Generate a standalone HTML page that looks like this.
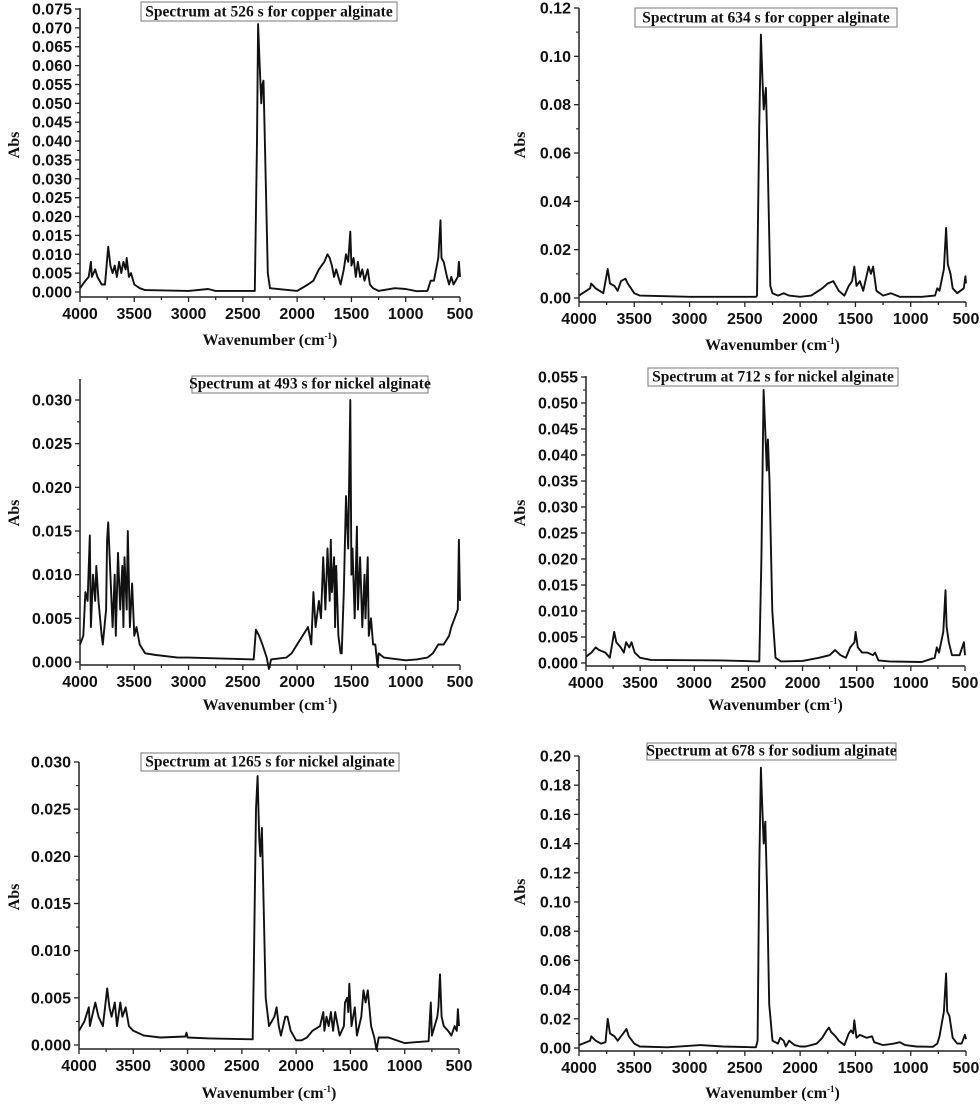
<!DOCTYPE html>
<html><head><meta charset="utf-8">
<style>
html,body{margin:0;padding:0;background:#fff;}
svg{display:block;}
.tl{font-family:"Liberation Sans",Arial,sans-serif;font-weight:bold;font-size:16px;fill:#111;}
.ti{font-family:"Liberation Serif",serif;font-weight:bold;font-size:15.5px;fill:#111;}
.ax{font-family:"Liberation Serif",serif;font-weight:bold;font-size:16px;fill:#111;}
</style></head>
<body>
<svg id="fig" width="980" height="1105" viewBox="0 0 980 1105" xmlns="http://www.w3.org/2000/svg"></svg>
<script>
const titles = ["Spectrum at 526 s for copper alginate","Spectrum at 634 s for copper alginate","Spectrum at 493 s for nickel alginate","Spectrum at 712 s for nickel alginate","Spectrum at 1265 s for nickel alginate","Spectrum at 678 s for sodium alginate"];
const xTickLabels = [4000,3500,3000,2500,2000,1500,1000,500];
const yMaxes = [0.075,0.12,0.030,0.055,0.030,0.20];
const ySteps = [0.005,0.02,0.005,0.005,0.005,0.02];
const yDecimals = [3,2,3,3,3,2];

const s1Wn=[4000,3950,3920,3900,3890,3860,3840,3800,3770,3740,3720,3700,3680,3660,3640,3620,3600,3580,3570,3550,3530,3500,3450,3400,3000,2820,2750,2400,2390,2370,2360,2345,2330,2320,2310,2290,2270,2250,2000,1900,1850,1800,1750,1720,1700,1680,1660,1640,1600,1570,1550,1530,1510,1500,1480,1460,1440,1420,1400,1380,1350,1330,1300,1250,1100,1000,900,800,770,740,700,680,670,650,620,600,580,560,520,510,500];
const s1Abs=[.001,.003,.004,.008,.004,.006,.004,.002,.002,.012,.007,.005,.007,.004,.008,.005,.008,.006,.009,.004,.005,.002,.001,.0005,.0003,.0008,.0003,.0003,.0003,.04,.071,.06,.05,.055,.056,.03,.005,.001,.0003,.002,.003,.006,.008,.010,.009,.007,.004,.006,.002,.006,.010,.008,.016,.007,.009,.004,.008,.004,.006,.003,.006,.002,.001,.0003,.001,.0008,.0002,.0003,.003,.003,.009,.019,.009,.008,.004,.002,.004,.002,.004,.008,.004];

const s2Wn=[4000,3900,3890,3850,3780,3740,3720,3680,3650,3620,3580,3560,3500,3450,3000,2400,2390,2370,2355,2340,2330,2310,2295,2270,2250,2200,2150,2100,2000,1900,1800,1750,1700,1650,1600,1560,1530,1510,1490,1460,1430,1380,1360,1340,1310,1250,1180,1100,900,780,760,740,700,680,665,640,620,580,520,505,500];
const s2Abs=[.001,.004,.006,.004,.002,.012,.006,.005,.003,.007,.008,.006,.002,.001,.0005,.0005,.001,.07,.109,.09,.078,.087,.06,.005,.002,.001,.002,.001,.0005,.001,.004,.006,.007,.003,.001,.005,.007,.013,.005,.007,.003,.013,.010,.013,.003,.001,.002,.0005,.0005,.001,.004,.003,.012,.029,.014,.010,.004,.002,.004,.009,.006];

const s3Wn=[4000,3970,3950,3930,3910,3900,3880,3860,3850,3830,3800,3790,3760,3750,3740,3720,3700,3680,3670,3650,3630,3610,3600,3590,3570,3560,3540,3520,3500,3480,3450,3400,3300,3100,3000,2400,2380,2350,2320,2280,2260,2240,2100,2050,2000,1950,1900,1870,1850,1830,1800,1780,1760,1740,1720,1700,1690,1680,1660,1650,1640,1620,1600,1590,1570,1550,1530,1510,1500,1490,1470,1450,1440,1420,1400,1380,1370,1350,1340,1320,1300,1280,1260,1250,1200,1000,900,800,750,700,650,600,580,550,520,510,500];
const s3Abs=[.002,.003,.008,.007,.0145,.004,.010,.007,.011,.007,.003,.002,.006,.014,.016,.010,.004,.010,.003,.0125,.006,.011,.004,.012,.006,.015,.004,.009,.003,.004,.002,.001,.0008,.0005,.0005,.0003,.0037,.003,.002,.0005,-.0008,.0003,.0005,.001,.002,.003,.004,.002,.008,.004,.007,.005,.012,.006,.013,.007,.014,.008,.012,.004,.011,.003,.001,.001,.008,.019,.013,.030,.010,.013,.005,.0155,.006,.012,.004,.010,.005,.012,.003,.005,.002,.002,-.0005,.001,.0005,.0002,.0003,.0005,.001,.002,.002,.003,.004,.005,.006,.014,.007];

const s4Wn=[4000,3950,3910,3880,3820,3780,3740,3720,3680,3650,3630,3600,3580,3550,3500,3400,2750,2400,2380,2360,2345,2330,2320,2305,2280,2250,2200,2000,1850,1750,1700,1650,1600,1560,1520,1510,1490,1450,1400,1350,1330,1300,1200,900,780,760,740,700,680,670,650,620,550,510,500];
const s4Abs=[.0012,.002,.003,.0025,.002,.001,.006,.004,.003,.002,.004,.003,.004,.002,.001,.0006,.0005,.0003,.02,.0525,.045,.037,.043,.035,.01,.001,.0003,.0004,.001,.0015,.0025,.0015,.001,.003,.004,.006,.003,.002,.002,.0015,.002,.0005,.0003,.0002,.001,.003,.002,.006,.014,.007,.004,.0015,.0015,.004,.0015];

const s5Wn=[4000,3950,3910,3900,3880,3850,3820,3780,3740,3720,3700,3670,3650,3620,3600,3570,3540,3500,3400,3250,3020,3010,3000,2800,2400,2390,2370,2355,2340,2330,2315,2300,2280,2250,2200,2180,2160,2140,2100,2080,2050,2000,1950,1900,1850,1780,1750,1740,1720,1700,1680,1660,1640,1600,1560,1550,1530,1520,1510,1490,1460,1440,1420,1400,1380,1360,1340,1310,1280,1260,1240,1150,1000,900,780,760,750,700,690,675,660,640,600,570,540,520,510,500];
const s5Abs=[.0015,.0025,.004,.002,.003,.0045,.003,.002,.006,.004,.003,.0045,.002,.0045,.003,.004,.002,.0015,.001,.0008,.0009,.0013,.0008,.0007,.0006,.008,.025,.0285,.022,.02,.023,.015,.005,.002,.003,.004,.002,.001,.003,.003,.0015,.0005,.0005,.0008,.0015,.002,.0035,.0015,.003,.002,.0035,.0015,.0035,.001,.002,.0045,.005,.0035,.0065,.002,.004,.001,.002,.003,.0058,.0045,.0058,.002,.0008,-.0005,.0008,.0008,.0002,.0003,.0004,.0045,.001,.003,.004,.0075,.003,.002,.0015,.001,.002,.0015,.0038,.002];

const s6Wn=[4000,3900,3890,3850,3800,3760,3740,3720,3680,3650,3600,3570,3550,3500,3450,3200,2900,2700,2400,2385,2370,2355,2345,2330,2315,2300,2280,2250,2200,2180,2150,2130,2100,2050,2000,1950,1900,1850,1800,1760,1740,1720,1680,1650,1600,1560,1540,1520,1510,1490,1460,1400,1350,1330,1250,1150,1100,1050,950,800,760,740,700,680,670,650,620,580,540,510,500];
const s6Abs=[.002,.005,.008,.005,.003,.004,.02,.01,.008,.005,.01,.013,.008,.003,.001,.0005,.002,.001,.0005,.005,.12,.192,.17,.14,.155,.11,.03,.005,.003,.007,.005,.001,.005,.002,.001,.001,.002,.003,.007,.012,.014,.011,.008,.005,.002,.01,.012,.01,.019,.007,.009,.007,.008,.004,.002,.003,.004,.002,.001,.0008,.003,.008,.025,.051,.025,.022,.007,.003,.003,.009,.006];

const seriesWn=[s1Wn,s2Wn,s3Wn,s4Wn,s5Wn,s6Wn];
const seriesAbs=[s1Abs,s2Abs,s3Abs,s4Abs,s5Abs,s6Abs];

const L=[
 {xL:80,xR:460,y0:292,yT:9,top:8,bot:297,tb:[141,2,256,19],ab:[14,140],xl:345},
 {xL:579,xR:966,y0:298,yT:8,top:8,bot:302,tb:[635,8,262,19],ab:[520,140],xl:350},
 {xL:80,xR:460,y0:662,yT:400,top:379,bot:665,tb:[192,376,236,17],ab:[14,508],xl:710},
 {xL:586,xR:965,y0:663,yT:377,top:376,bot:666,tb:[648,368,250,18],ab:[520,508],xl:710},
 {xL:79,xR:459,y0:1045,yT:762,top:762,bot:1049,tb:[141,753,258,18],ab:[14,892],xl:1098},
 {xL:579,xR:966,y0:1048,yT:756,top:756,bot:1051,tb:[647,743,249,17],ab:[520,887],xl:1098}
];
const NS="http://www.w3.org/2000/svg";
const svg=document.getElementById('fig');
function mk(tag,attrs,parent){const e=document.createElementNS(NS,tag);for(const k in attrs)e.setAttribute(k,attrs[k]);(parent||svg).appendChild(e);return e;}

for(let p=0;p<6;p++){
  const g=L[p];
  const grp=mk('g',{});
  
  
  const xs=w=>g.xL+(4000-w)/3500*(g.xR-g.xL);
  const ys=v=>g.y0-(v/yMaxes[p])*(g.y0-g.yT);
  const ya=mk('line',{x1:g.xL,y1:g.top,x2:g.xL,y2:g.bot,stroke:'#222','stroke-width':1.5},grp);
  
  
  const xa=mk('line',{x1:g.xL,y1:g.bot,x2:g.xR,y2:g.bot,stroke:'#222','stroke-width':1.5},grp);
  
  
  for(let w=4000;w>=500;w-=250){
    const major=(w%500===0);
    mk('line',{x1:xs(w),y1:g.bot,x2:xs(w),y2:g.bot+(major?5:3),stroke:'#222','stroke-width':1.3},grp);
  }
  xTickLabels.forEach(w=>{
    const t=mk('text',{x:xs(w),y:g.bot+22,'text-anchor':'middle',class:'tl'},grp);
    t.textContent=w;
    
    
  });
  const n=Math.round(yMaxes[p]/ySteps[p]);
  for(let i=0;i<=n;i++){
    const v=i*ySteps[p];
    mk('line',{x1:g.xL-5,y1:ys(v),x2:g.xL,y2:ys(v),stroke:'#222','stroke-width':1.3},grp);
    if(i<n) mk('line',{x1:g.xL-3,y1:ys(v+ySteps[p]/2),x2:g.xL,y2:ys(v+ySteps[p]/2),stroke:'#222','stroke-width':1.1},grp);
    const t=mk('text',{x:g.xL-8,y:ys(v)+5.5,'text-anchor':'end',class:'tl'},grp);
    t.textContent=v.toFixed(yDecimals[p]);
    
    
  }
  const at=mk('text',{x:g.ab[0],y:g.ab[1],'text-anchor':'middle',class:'ax',transform:'rotate(-90 '+(g.ab[0]+5)+' '+g.ab[1]+')'},grp);
  at.textContent='Abs';
  
  
  const xt=mk('text',{x:(g.xL+g.xR)/2,y:g.xl,'text-anchor':'middle',class:'ax'},grp);
  xt.innerHTML='Wavenumber (cm<tspan dy="-6" font-size="9">-1</tspan><tspan dy="6">)</tspan>';
  
  
  const tb=g.tb;
  const r=mk('rect',{x:tb[0],y:tb[1],width:tb[2],height:tb[3],fill:'#fff',stroke:'#777','stroke-width':1},grp);
  
  
  const tt=mk('text',{x:tb[0]+tb[2]/2,y:tb[1]+tb[3]-4.5,'text-anchor':'middle',class:'ti'},grp);
  tt.textContent=titles[p];
  
  
  const wn=seriesWn[p],ab=seriesAbs[p];
  let d='';
  for(let i=0;i<wn.length;i++) d+=(i?'L':'M')+xs(wn[i]).toFixed(1)+' '+ys(ab[i]).toFixed(1);
  const path=mk('path',{d:d,fill:'none',stroke:'#111','stroke-width':1.9,'stroke-linejoin':'round'},grp);
  
  
}
</script>
</body></html>
